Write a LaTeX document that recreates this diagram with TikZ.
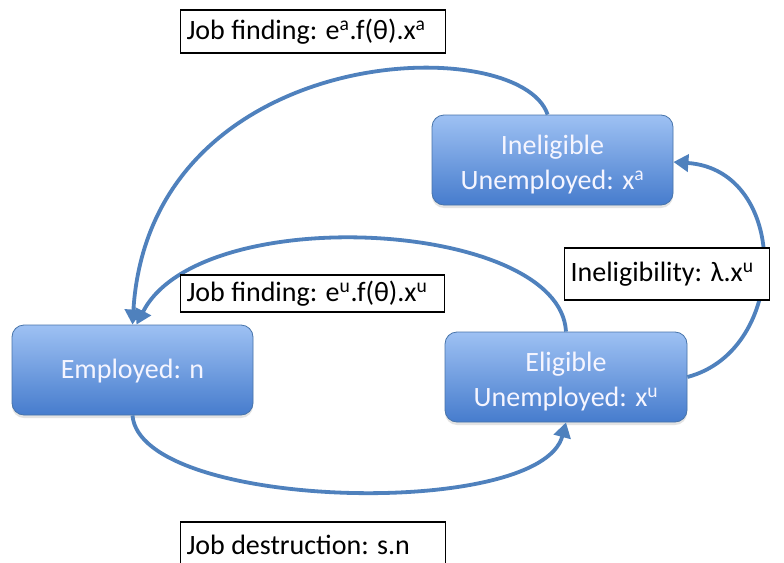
\documentclass[tikz,border=0pt]{standalone}
\usepackage{fontspec}
\setmainfont{Carlito}
\usetikzlibrary{arrows.meta,shadows}
\definecolor{flowblue}{RGB}{79,129,189}
\definecolor{boxtop}{RGB}{158,193,243}
\definecolor{boxbottom}{RGB}{70,124,205}
\tikzset{
  statebox/.style={draw=flowblue!90!black, line width=0.8pt, rounded corners=12pt,
    top color=boxtop, bottom color=boxbottom, minimum height=90pt,
    drop shadow={opacity=0.22, shadow xshift=0pt, shadow yshift=-3pt}},
  statetext/.style={text=white!96!blue, align=center, inner sep=0pt,
    font=\fontsize{28}{35}\selectfont},
  ratelabel/.style={draw=black, line width=1.1pt, fill=white, text=black,
    font=\fontsize{28}{32}\selectfont, inner xsep=6pt, inner ysep=0pt,
    anchor=west, align=flush left},
  flow/.style={draw=flowblue, line width=3.8pt,
    -{Triangle[length=15pt,width=17pt]}},
}
\begin{document}
\begin{tikzpicture}[x=1pt,y=-1pt]
  \useasboundingbox (0,0) rectangle (784,562);
  \fill[white] (0,0) rectangle (784,562);

  % the three states
  \node[statebox, minimum width=241pt] (emp) at (132.5,370) {};
  \node[statetext] (empText) at (132.5,371) {Employed: n};
  \node[statebox, minimum width=241pt] (inel) at (552.5,160) {};
  \node[statetext] (inelText) at (552.5,165) {Ineligible\\Unemployed: x\textsuperscript{a}};
  \node[statebox, minimum width=242pt] (elig) at (566,377) {};
  \node[statetext] (eligText) at (566,382) {Eligible\\Unemployed: x\textsuperscript{u}};

  % flows between the states
  \draw[flow] (inel.north west) ++(116,0) coordinate (inelTop)
    (inelTop) .. controls (520,30) and (150,40) .. (emp.north);
  \draw[flow] (elig.north) .. controls (560,220) and (200,200) .. ([xshift=4pt]emp.north);
  \draw[flow] (emp.south) .. controls (140,510) and (540,520) .. (elig.south);
  \draw[flow] (elig.east) .. controls (790,350) and (790,170) .. ([yshift=-2pt]inel.east);

  % transition rates
  \node[ratelabel, minimum height=43pt, text width=253pt] (jfa) at (180,31.5)
    {Job finding: e\textsuperscript{a}.f(θ).x\textsuperscript{a}};
  \node[ratelabel, minimum height=37pt, text width=252pt] (jfu) at (180,293.5)
    {Job finding: e\textsuperscript{u}.f(θ).x\textsuperscript{u}};
  \node[ratelabel, minimum height=52pt, text width=193pt] (inl) at (564,274)
    {Ineligibility: λ.x\textsuperscript{u}};
  \node[ratelabel, minimum height=46pt, text width=253pt] (jd) at (180,545)
    {Job destruction: s.n};
\end{tikzpicture}
\end{document}
